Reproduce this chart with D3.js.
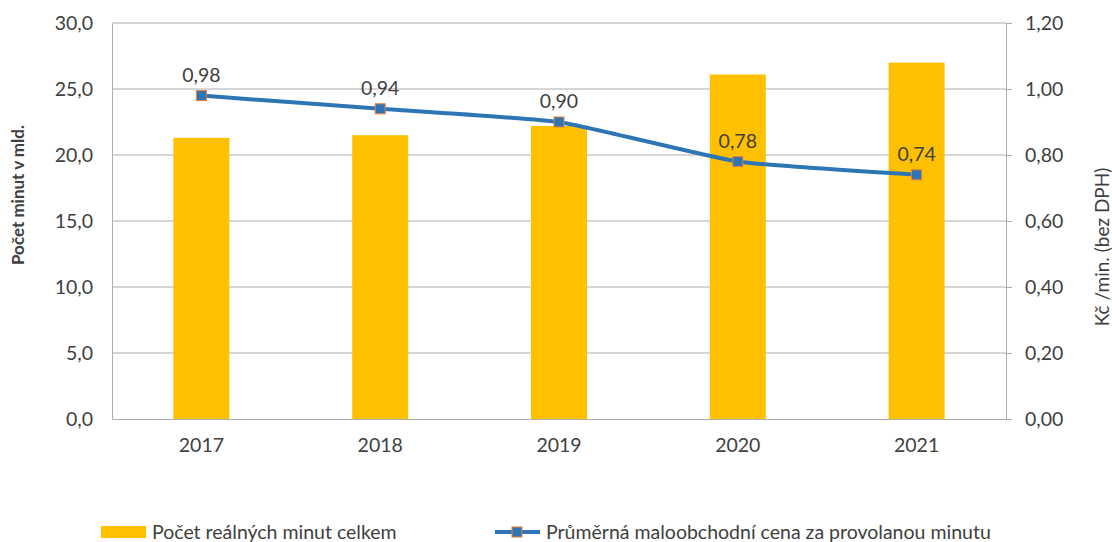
<!DOCTYPE html>
<html>
<head>
<meta charset="utf-8">
<script src="https://cdn.jsdelivr.net/npm/d3@7"></script>
<style>
  body { margin: 0; background: #fff; }
  text { font-family: Lato, "Open Sans", sans-serif; fill: #404040; }
</style>
</head>
<body>
<div id="chart"></div>
<script>
// chart data
var years = ["2017", "2018", "2019", "2020", "2021"];
var minutes = [21.3, 21.5, 22.2, 26.1, 27.0];
var prices = [0.98, 0.94, 0.90, 0.78, 0.74];
var leftTicks = [0, 5, 10, 15, 20, 25, 30];
var rightTicks = [0, 0.2, 0.4, 0.6, 0.8, 1.0, 1.2];
var barName = "Počet reálných minut celkem";
var lineName = "Průměrná maloobchodní cena za provolanou minutu";

var svgWidth = 1112;
var svgHeight = 542;
var margin = { top: 23, right: 106, bottom: 123, left: 112 };
var width = svgWidth - margin.left - margin.right;
var height = svgHeight - margin.top - margin.bottom;

var barColor = "#FFC000";
var lineColor = "#2E75B6";
var gridColor = "#ADADAD";
var fontSize = "19.5px";

var svg = d3.select("#chart").append("svg")
  .attr("width", svgWidth)
  .attr("height", svgHeight);

var chartGroup = svg.append("g")
  .attr("transform", `translate(${margin.left}, ${margin.top})`);

var x = d3.scaleBand().domain(years).range([0, width]);
var yLeft = d3.scaleLinear().domain([0, 30]).range([height, 0]);
var yRight = d3.scaleLinear().domain([0, 1.2]).range([height, 0]);

var fmt1 = v => d3.format(".1f")(v).replace(".", ",");
var fmt2 = v => d3.format(".2f")(v).replace(".", ",");

// gridlines
chartGroup.append("g")
  .selectAll("line")
  .data(leftTicks.slice(1))
  .enter()
  .append("line")
  .attr("x1", 0).attr("x2", width)
  .attr("y1", d => yLeft(d)).attr("y2", d => yLeft(d))
  .attr("stroke", gridColor).attr("stroke-width", 1);

// left axis
var leftAxis = d3.axisLeft(yLeft).tickValues(leftTicks).tickFormat(fmt1).tickSize(0).tickPadding(19);
var gl = chartGroup.append("g").call(leftAxis);
gl.select(".domain").attr("stroke", gridColor);
gl.selectAll("text").style("font-size", fontSize).attr("fill", "#404040");

// right axis
var rightAxis = d3.axisRight(yRight).tickValues(rightTicks).tickFormat(fmt2).tickSize(6).tickPadding(13);
var gr = chartGroup.append("g")
  .attr("transform", `translate(${width}, 0)`)
  .call(rightAxis);
gr.select(".domain").attr("stroke", gridColor);
gr.selectAll(".tick line").attr("stroke", gridColor);
gr.selectAll("text").style("font-size", fontSize).attr("fill", "#404040");

// bottom axis
var bottomAxis = d3.axisBottom(x).tickSize(0).tickPadding(19);
var gb = chartGroup.append("g")
  .attr("transform", `translate(0, ${height})`)
  .call(bottomAxis);
gb.select(".domain").attr("stroke", gridColor);
gb.selectAll("text").style("font-size", fontSize).attr("fill", "#404040");

// bars
var barW = x.bandwidth() * 0.313;
chartGroup.append("g")
  .selectAll("rect")
  .data(years)
  .enter()
  .append("rect")
  .attr("x", d => x(d) + x.bandwidth() / 2 - barW / 2)
  .attr("y", (d, i) => yLeft(minutes[i]))
  .attr("width", barW)
  .attr("height", (d, i) => height - yLeft(minutes[i]))
  .attr("fill", barColor);

// line
var line = d3.line()
  .x((d, i) => x(years[i]) + x.bandwidth() / 2)
  .y(d => yRight(d))
  .curve(d3.curveCardinal.tension(0.6));

chartGroup.append("path")
  .datum(prices)
  .attr("d", line)
  .attr("fill", "none")
  .attr("stroke", lineColor)
  .attr("stroke-width", 4);

chartGroup.append("g")
  .selectAll("rect")
  .data(prices)
  .enter()
  .append("rect")
  .attr("x", (d, i) => x(years[i]) + x.bandwidth() / 2 - 5)
  .attr("y", d => yRight(d) - 5)
  .attr("width", 10).attr("height", 10)
  .attr("fill", lineColor)
  .attr("stroke", "#ED7D31")
  .attr("stroke-width", 1);

chartGroup.append("g")
  .selectAll("text")
  .data(prices)
  .enter()
  .append("text")
  .attr("x", (d, i) => x(years[i]) + x.bandwidth() / 2)
  .attr("y", d => yRight(d) - 14)
  .attr("text-anchor", "middle")
  .style("font-size", fontSize)
  .text(fmt2);

// axis titles
svg.append("text")
  .attr("transform", "translate(24, 195) rotate(-90)")
  .attr("text-anchor", "middle")
  .style("font-size", "17px")
  .style("font-weight", "bold")
  .attr("fill", "#000")
  .text("Počet minut v mld.");

svg.append("text")
  .attr("transform", "translate(1109, 247) rotate(-90)")
  .attr("text-anchor", "middle")
  .style("font-size", "19px")
  .attr("fill", "#000")
  .text("Kč /min. (bez DPH)");

// legend
var legend = svg.append("g");
legend.append("rect")
  .attr("x", 101).attr("y", 526)
  .attr("width", 45).attr("height", 12)
  .attr("fill", barColor);
legend.append("text")
  .attr("x", 152).attr("y", 539)
  .style("font-size", fontSize)
  .text(barName);

legend.append("line")
  .attr("x1", 495).attr("x2", 540)
  .attr("y1", 532).attr("y2", 532)
  .attr("stroke", lineColor).attr("stroke-width", 4);
legend.append("rect")
  .attr("x", 512).attr("y", 527)
  .attr("width", 10).attr("height", 10)
  .attr("fill", lineColor)
  .attr("stroke", "#ED7D31");
legend.append("text")
  .attr("x", 546).attr("y", 539)
  .style("font-size", fontSize)
  .text(lineName);
</script>
</body>
</html>
